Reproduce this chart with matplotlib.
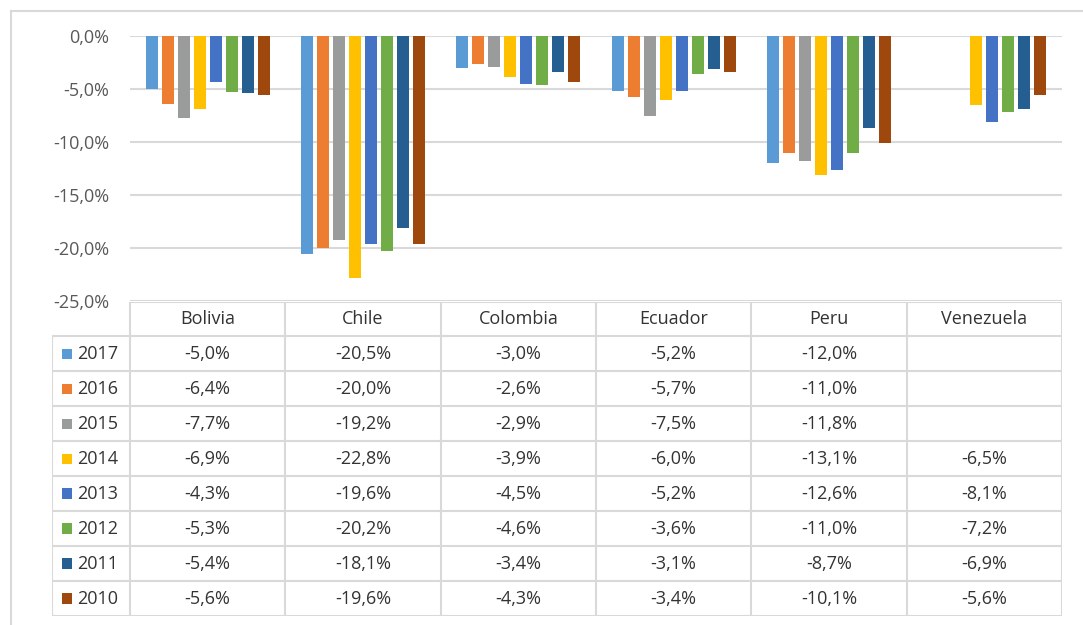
import numpy as np
import matplotlib
matplotlib.use('Agg')
import matplotlib.pyplot as plt
from matplotlib.lines import Line2D
from matplotlib.patches import Rectangle

# DATA
countries = ['Bolivia', 'Chile', 'Colombia', 'Ecuador', 'Peru', 'Venezuela']
years = ['2017', '2016', '2015', '2014', '2013', '2012', '2011', '2010']
nan = np.nan
v2017 = [-5.0, -20.5, -3.0, -5.2, -12.0, nan]
v2016 = [-6.4, -20.0, -2.6, -5.7, -11.0, nan]
v2015 = [-7.7, -19.2, -2.9, -7.5, -11.8, nan]
v2014 = [-6.9, -22.8, -3.9, -6.0, -13.1, -6.5]
v2013 = [-4.3, -19.6, -4.5, -5.2, -12.6, -8.1]
v2012 = [-5.3, -20.2, -4.6, -3.6, -11.0, -7.2]
v2011 = [-5.4, -18.1, -3.4, -3.1, -8.7, -6.9]
v2010 = [-5.6, -19.6, -4.3, -3.4, -10.1, -5.6]
series = [v2017, v2016, v2015, v2014, v2013, v2012, v2011, v2010]
colors = ['#5B9BD5', '#ED7D31', '#9A9B9B', '#FFC000', '#4472C4', '#70AD47', '#255E91', '#9E480E']
yticks = [0, -5, -10, -15, -20, -25]

W, H = 1083, 625
GRID = '#d9d9d9'
FONT = 'Open Sans'
FS = 13
TXT = '#333333'


def px_box(l, t, r, b):
    return [l / W, 1 - b / H, (r - l) / W, (b - t) / H]


def pct(v):
    return '{:.1f}%'.format(v).replace('.', ',')


fig = plt.figure(figsize=(W / 100, H / 100), dpi=100)

# outer chart frame
fig.add_artist(Line2D([11 / W, 11 / W], [0, 1 - 11 / H], transform=fig.transFigure, color=GRID, lw=1.5))
fig.add_artist(Line2D([11 / W, 1], [1 - 11 / H, 1 - 11 / H], transform=fig.transFigure, color=GRID, lw=1.5))

# bars
ax = fig.add_axes(px_box(130, 36, 1062, 301.5))
x = np.arange(len(countries))
step = 0.103
width = 0.076
for i, vals in enumerate(series):
    ax.bar(x + (i - 3.5) * step, vals, width=width, color=colors[i], zorder=3)

ax.set_xlim(-0.5, len(countries) - 0.5)
ax.set_ylim(-25, 0)
ax.set_yticks(yticks)
ax.set_yticklabels([pct(v) for v in yticks], fontfamily=FONT, fontsize=FS, color='#595959')
ax.set_xticks([])
ax.tick_params(axis='y', length=0, pad=15)
ax.yaxis.grid(True, color=GRID, lw=1.5, zorder=0)
for s in ax.spines.values():
    s.set_visible(False)
ax.patch.set_alpha(0)

# data table below
cat_px = (1062 - 130) / len(countries)
left_w = 78 / cat_px
tab = fig.add_axes(px_box(52, 301.5, 1062, 616))
nrows = len(years) + 1
tab.set_xlim(-0.5 - left_w, len(countries) - 0.5)
tab.set_ylim(nrows, 0)
tab.axis('off')

x0 = -0.5 - left_w
tab.plot([-0.5, len(countries) - 0.5], [0, 0], color=GRID, lw=1.5)
for r in range(1, nrows + 1):
    tab.plot([x0, len(countries) - 0.5], [r, r], color=GRID, lw=1.5)
tab.plot([x0, x0], [1, nrows], color=GRID, lw=1.5)
for k in range(len(countries) + 1):
    tab.plot([k - 0.5, k - 0.5], [0, nrows], color=GRID, lw=1.5)

for k, c in enumerate(countries):
    tab.text(k, 0.5, c, ha='center', va='center', fontfamily=FONT, fontsize=FS, color=TXT)

sq = 10 / cat_px
for r, (yr, vals) in enumerate(zip(years, series), start=1):
    tab.add_patch(Rectangle((x0 + 10 / cat_px, r + 0.5 - 0.15), sq, 0.3, color=colors[r - 1], lw=0))
    tab.text(x0 + 25 / cat_px, r + 0.5, yr, ha='left', va='center', fontfamily=FONT, fontsize=FS, color=TXT)
    for k, v in enumerate(vals):
        if not np.isnan(v):
            tab.text(k, r + 0.5, pct(v), ha='center', va='center', fontfamily=FONT, fontsize=FS, color=TXT)

fig.savefig('out.png', dpi=100)
